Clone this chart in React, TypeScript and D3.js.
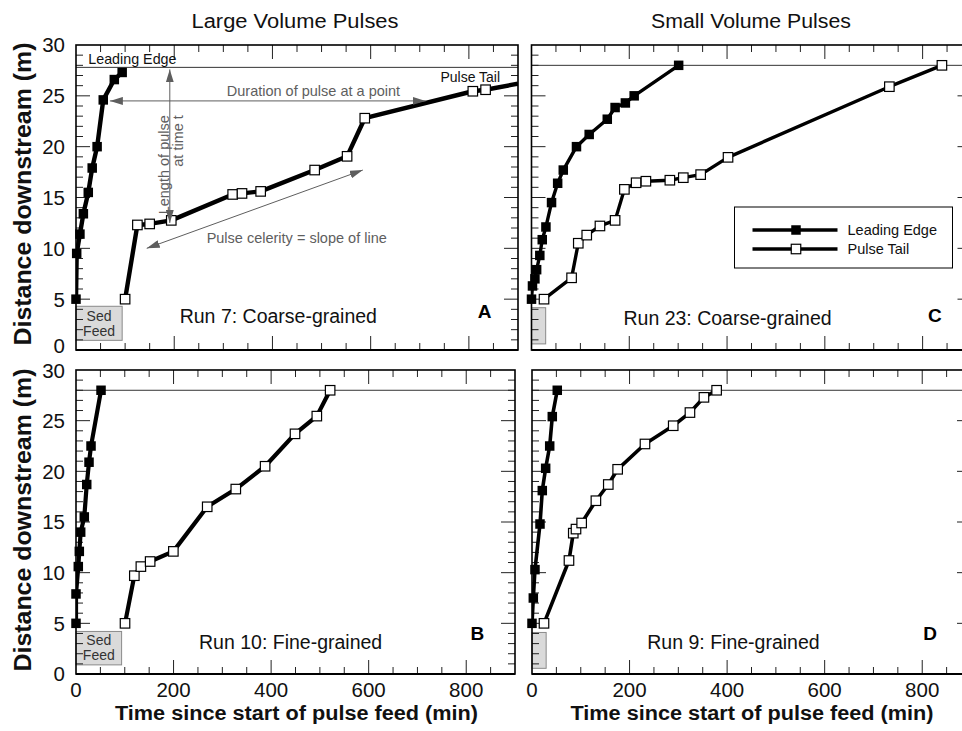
import React from 'react';
import * as d3 from 'd3';

type Pt = [number, number];

// ---------- data ----------
const xTickLabels = [0, 200, 400, 600, 800];
const yTickLabels = [0, 5, 10, 15, 20, 25, 30];
const columnTitles = ['Large Volume Pulses', 'Small Volume Pulses'];
const seriesNames = ['Leading Edge', 'Pulse Tail'];
const panelLetters = ['A', 'B', 'C', 'D'];
const runLabels = ['Run 7: Coarse-grained', 'Run 10: Fine-grained', 'Run 23: Coarse-grained', 'Run 9: Fine-grained'];

// Run 7 (A)
const run7Leading: Pt[] = [[0, 5], [1.4, 9.5], [8, 11.4], [15, 13.4], [25, 15.5], [33, 17.9], [43, 20.0], [55.5, 24.6], [78, 26.6], [94, 27.3]];
const run7Tail: Pt[] = [[100, 5], [125, 12.3], [150, 12.4], [194, 12.75], [319, 15.3], [338, 15.4], [376, 15.6], [486, 17.7], [552, 19.05], [588, 22.8], [808, 25.45], [834, 25.6], [900, 26.2]];
// Run 10 (B)
const run10Leading: Pt[] = [[0, 5], [0, 7.9], [4.7, 10.6], [6.8, 12.1], [9.6, 14.0], [17, 15.5], [22, 18.7], [26.7, 20.9], [30.8, 22.5], [51.3, 28.0]];
const run10Tail: Pt[] = [[100.5, 5], [119.6, 9.7], [133, 10.6], [152, 11.1], [199.6, 12.1], [269, 16.5], [327.6, 18.25], [387.7, 20.5], [449, 23.7], [493.7, 25.45], [521, 28.0]];
// Run 23 (C)
const run23Leading: Pt[] = [[0, 5], [2, 6.3], [7, 7.0], [10.5, 7.9], [17, 9.3], [22, 10.85], [29.5, 12.1], [41, 14.5], [53.5, 16.4], [65, 17.7], [92, 20.0], [118, 21.2], [155, 22.7], [171, 23.85], [192, 24.3], [210, 25.0], [301, 28.0]];
const run23Tail: Pt[] = [[25.6, 5], [82, 7.1], [95.7, 10.5], [113, 11.3], [140, 12.2], [171, 12.75], [190, 15.8], [214, 16.45], [234, 16.6], [283, 16.7], [310.5, 16.95], [346, 17.25], [402, 18.95], [732, 25.9], [839.5, 28.0]];
// Run 9 (D)
const run9Leading: Pt[] = [[0, 5], [2.7, 7.5], [6.1, 10.3], [16.4, 14.8], [21.1, 18.1], [28, 20.3], [36.3, 22.5], [41.6, 25.4], [51.8, 28.0]];
const run9Tail: Pt[] = [[24.6, 5], [75.8, 11.2], [84.6, 13.9], [90.2, 14.3], [101.8, 14.9], [131, 17.1], [156.4, 18.7], [175.6, 20.2], [231.6, 22.7], [289.5, 24.5], [323.8, 25.8], [352.5, 27.3], [378.5, 28.0]];

// flume end (m) and sediment-feed box [duration min, bottom m, top m]
const flumeEnd = [27.8, 28, 28, 28];
const sedFeed: [number, number, number][] = [[94, 0.95, 4.3], [93.5, 0.9, 4.2], [29, 0.6, 4.16], [29, 0.56, 4.1]];

const FONT = '"Liberation Sans", Arial, Helvetica, sans-serif';
const X_MAX = 900;

interface PanelCfg {
  key: string;
  x0: number; w: number; y0: number; h: number;
  lead: Pt[]; tail: Pt[];
  ref: number; feed: [number, number, number];
  label: string; letter: string;
  labelPos: Pt; letterPos: Pt;
  lw: number;
  top: boolean;
  yLabels: boolean; xLabels: boolean;
  sedText: boolean; legend: boolean; notes: boolean;
}

const panels: PanelCfg[] = [
  { key: 'A', x0: 76, w: 442, y0: 45, h: 305, lead: run7Leading, tail: run7Tail, ref: flumeEnd[0], feed: sedFeed[0], label: runLabels[0], letter: panelLetters[0], labelPos: [412, 2.65], letterPos: [832, 3.1], lw: 4.4, top: true, yLabels: true, xLabels: false, sedText: true, legend: false, notes: true },
  { key: 'B', x0: 76, w: 439, y0: 370, h: 304, lead: run10Leading, tail: run10Tail, ref: flumeEnd[1], feed: sedFeed[1], label: runLabels[1], letter: panelLetters[1], labelPos: [440, 2.47], letterPos: [823, 3.36], lw: 4.2, top: false, yLabels: true, xLabels: true, sedText: true, legend: false, notes: false },
  { key: 'C', x0: 531.5, w: 440, y0: 45, h: 305, lead: run23Leading, tail: run23Tail, ref: flumeEnd[2], feed: sedFeed[2], label: runLabels[2], letter: panelLetters[2], labelPos: [401, 2.45], letterPos: [825, 2.8], lw: 3.4, top: true, yLabels: false, xLabels: false, sedText: false, legend: true, notes: false },
  { key: 'D', x0: 532, w: 439, y0: 370, h: 304, lead: run9Leading, tail: run9Tail, ref: flumeEnd[3], feed: sedFeed[3], label: runLabels[3], letter: panelLetters[3], labelPos: [413, 2.47], letterPos: [816, 3.36], lw: 3.6, top: false, yLabels: false, xLabels: true, sedText: false, legend: false, notes: false },
];

const GRAY = '#5e5e5e';
const MS = 9.5;

function Filled({ cx, cy, s = MS }: { cx: number; cy: number; s?: number }) {
  return <rect x={cx - s / 2} y={cy - s / 2} width={s} height={s} fill="#000" />;
}
function Hollow({ cx, cy, s = MS }: { cx: number; cy: number; s?: number }) {
  return <rect x={cx - s / 2} y={cy - s / 2} width={s} height={s} fill="#fff" stroke="#000" strokeWidth={1.2} />;
}

function Panel({ p }: { p: PanelCfg }) {
  const x = d3.scaleLinear().domain([0, X_MAX]).range([p.x0, p.x0 + p.w]);
  const y = d3.scaleLinear().domain([0, 30]).range([p.y0 + p.h, p.y0]);
  const line = d3.line<Pt>().x(d => x(d[0])).y(d => y(d[1]));
  const xl = p.x0, xr = p.x0 + p.w, yt = p.y0, yb = p.y0 + p.h;
  const xt = d3.range(50, X_MAX, 50);
  const ytk = d3.range(1, 30, 1);
  const clipId = 'clip' + p.key;
  const inDom = (d: Pt) => d[0] < X_MAX;

  return (
    <g>
      <defs>
        <clipPath id={clipId}>
          <rect x={xl} y={yt} width={p.w} height={p.h} />
        </clipPath>
      </defs>
      {/* sed feed box */}
      <rect x={x(0)} y={y(p.feed[2])} width={x(p.feed[0]) - x(0)} height={y(p.feed[1]) - y(p.feed[2])} fill="#dadada" stroke="#8a8a8a" strokeWidth={1} />
      {p.sedText && (
        <g fontFamily={FONT} fontSize={14} fill="#333" textAnchor="middle">
          <text x={x(p.feed[0] / 2)} y={y(2.85)}>Sed</text>
          <text x={x(p.feed[0] / 2)} y={y(1.35)}>Feed</text>
        </g>
      )}
      {/* flume end line */}
      <line x1={xl} x2={xr} y1={y(p.ref)} y2={y(p.ref)} stroke="#333" strokeWidth={1} />
      {/* ticks */}
      <g stroke="#222" strokeWidth={1}>
        {xt.map(t => {
          const len = t % 200 === 0 ? 14 : 7;
          return (
            <g key={'x' + t}>
              <line x1={x(t)} x2={x(t)} y1={yb} y2={yb - len} />
              <line x1={x(t)} x2={x(t)} y1={yt} y2={yt + len} />
            </g>
          );
        })}
        {ytk.map(d => {
          const len = d % 5 === 0 ? 14 : 7;
          return (
            <g key={'y' + d}>
              <line x1={xl} x2={xl + len} y1={y(d)} y2={y(d)} />
              <line x1={xr} x2={xr - len} y1={y(d)} y2={y(d)} />
            </g>
          );
        })}
      </g>
      {/* data */}
      <g clipPath={`url(#${clipId})`}>
        <path d={line(p.tail) || ''} fill="none" stroke="#000" strokeWidth={p.lw} strokeLinejoin="round" />
        <path d={line(p.lead) || ''} fill="none" stroke="#000" strokeWidth={p.lw} strokeLinejoin="round" />
      </g>
      {p.tail.filter(inDom).map((d, i) => <Hollow key={'t' + i} cx={x(d[0])} cy={y(d[1])} />)}
      {p.lead.filter(inDom).map((d, i) => <Filled key={'l' + i} cx={x(d[0])} cy={y(d[1])} />)}
      {/* frame */}
      <rect x={xl} y={yt} width={p.w} height={p.h} fill="none" stroke="#000" strokeWidth={1.6} />
      <line x1={xl} x2={xr} y1={yb} y2={yb} stroke="#000" strokeWidth={2.2} />
      {/* labels */}
      <text x={x(p.labelPos[0])} y={y(p.labelPos[1])} fontFamily={FONT} fontSize={19.5} textAnchor="middle" fill="#111">{p.label}</text>
      <text x={x(p.letterPos[0])} y={y(p.letterPos[1])} fontFamily={FONT} fontSize={19} fontWeight="bold" textAnchor="middle" fill="#000">{p.letter}</text>
      {p.yLabels && yTickLabels.map(v => {
        const shift = p.top && v === 0 ? -4 : (!p.top && v === 30 ? 1 : 0);
        return (
          <text key={'yl' + v} x={xl - 11} y={y(v) + shift} dy="0.36em" fontFamily={FONT} fontSize={20.5} textAnchor="end" fill="#111">{v}</text>
        );
      })}
      {p.xLabels && xTickLabels.map(v => (
        <text key={'xl' + v} x={x(v)} y={yb + 23} fontFamily={FONT} fontSize={20.5} textAnchor="middle" fill="#111">{v}</text>
      ))}
      {p.legend && (
        <g>
          <rect x={xl + 203} y={yt + 162} width={218} height={61} fill="#fff" stroke="#000" strokeWidth={1} />
          {seriesNames.map((s, i) => {
            const ly = yt + 185 + i * 19;
            return (
              <g key={s}>
                <line x1={xl + 221} x2={xl + 306} y1={ly} y2={ly} stroke="#000" strokeWidth={3.4} />
                {i === 0 ? <Filled cx={xl + 264.5} cy={ly} /> : <Hollow cx={xl + 264.5} cy={ly} />}
                <text x={xl + 316} y={ly + 5} fontFamily={FONT} fontSize={14.5} fill="#111">{s}</text>
              </g>
            );
          })}
        </g>
      )}
      {p.notes && <Notes x={x} y={y} />}
    </g>
  );
}

function Notes({ x, y }: { x: d3.ScaleLinear<number, number>; y: d3.ScaleLinear<number, number> }) {
  return (
    <g fontFamily={FONT} fontSize={14.5}>
      <text x={x(25)} y={y(28.1)} fill="#111" fontSize={14.3}>{seriesNames[0]}</text>
      <text x={x(742)} y={y(26.37)} fill="#111" fontSize={14}>{seriesNames[1]}</text>
      <g stroke={GRAY} strokeWidth={1} fill="none">
        <line x1={x(191)} x2={x(191)} y1={y(27.6)} y2={y(12.5)} markerStart="url(#arr)" markerEnd="url(#arr)" />
        <line x1={x(69)} x2={x(712)} y1={y(24.5)} y2={y(24.5)} markerStart="url(#arr)" markerEnd="url(#arr)" />
        <line x1={x(584)} x2={x(144)} y1={y(17.7)} y2={y(10.0)} markerStart="url(#arr)" markerEnd="url(#arr)" />
      </g>
      <g fill={GRAY}>
        <text transform={`translate(${x(190)},${y(23.1)}) rotate(-90)`} textAnchor="end">Length of pulse</text>
        <text transform={`translate(${x(218.5)},${y(23.1)}) rotate(-90)`} textAnchor="end">at time t</text>
        <text x={x(307)} y={y(24.95)}>Duration of pulse at a point</text>
        <text x={x(266)} y={y(10.5)}>Pulse celerity = slope of line</text>
      </g>
    </g>
  );
}

export default function App() {
  return (
    <svg width={962} height={731} style={{ position: 'absolute', left: 0, top: 0, background: '#fff' }}>
      <defs>
        <marker id="arr" viewBox="0 0 13 8" refX={13} refY={4} markerWidth={13} markerHeight={8} markerUnits="userSpaceOnUse" orient="auto-start-reverse">
          <path d="M0,0 L13,4 L0,8 z" fill={GRAY} />
        </marker>
      </defs>
      <rect x={0} y={0} width={962} height={731} fill="#fff" />
      <text x={295} y={28} fontFamily={FONT} fontSize={20} textAnchor="middle" textLength={207} lengthAdjust="spacingAndGlyphs" fill="#111">{columnTitles[0]}</text>
      <text x={751} y={28} fontFamily={FONT} fontSize={20} textAnchor="middle" textLength={200} lengthAdjust="spacingAndGlyphs" fill="#111">{columnTitles[1]}</text>
      {panels.map(p => <Panel key={p.key} p={p} />)}
      {[194, 520].map(cy => (
        <text key={cy} transform={`translate(31,${cy}) rotate(-90)`} fontFamily={FONT} fontSize={23} fontWeight="bold" textAnchor="middle" textLength={303} lengthAdjust="spacingAndGlyphs" fill="#111">Distance downstream (m)</text>
      ))}
      {[296.5, 752].map(cx => (
        <text key={cx} x={cx} y={719.5} fontFamily={FONT} fontSize={20} fontWeight="bold" textAnchor="middle" textLength={363} lengthAdjust="spacingAndGlyphs" fill="#111">Time since start of pulse feed (min)</text>
      ))}
    </svg>
  );
}
